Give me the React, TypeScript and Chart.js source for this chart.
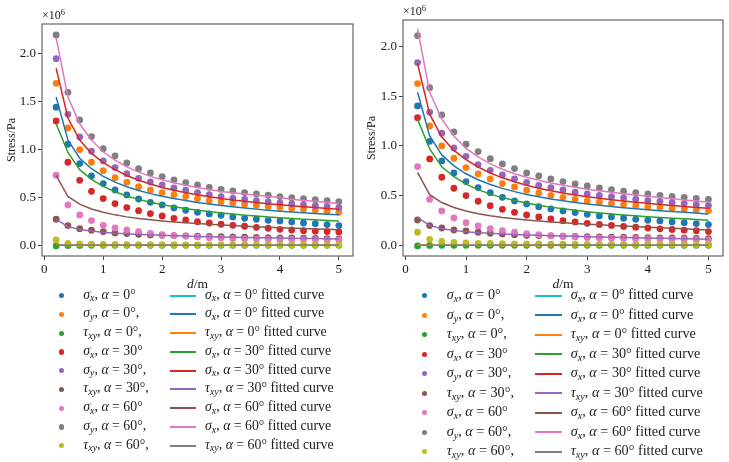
import React, { useEffect, useRef } from "react";
import { Chart, registerables } from "chart.js";

Chart.register(...registerables);

// Distance from the source (m)
const distance = [
  0.2, 0.4, 0.6, 0.8, 1.0, 1.2, 1.4, 1.6, 1.8, 2.0, 2.2, 2.4, 2.6,
  2.8, 3.0, 3.2, 3.4, 3.6, 3.8, 4.0, 4.2, 4.4, 4.6, 4.8, 5.0,
];

const xTicks = [0, 1, 2, 3, 4, 5];
const yTicks = [0, 0.5, 1.0, 1.5, 2.0];

// tab10 cycle; the fitted curves continue the cycle after the nine point series
const pointColors = ["#1f77b4", "#ff7f0e", "#2ca02c", "#d62728", "#9467bd", "#8c564b", "#e377c2", "#7f7f7f", "#bcbd22"];
const fitColors = ["#17becf", "#1f77b4", "#ff7f0e", "#2ca02c", "#d62728", "#9467bd", "#8c564b", "#e377c2", "#7f7f7f"];

// Legend labels
const pointSymbols = ["σ", "σ", "τ", "σ", "σ", "τ", "σ", "σ", "τ"];
const pointSubs = ["x", "y", "xy", "x", "y", "xy", "x", "y", "xy"];
const pointAngles = [0, 0, 0, 30, 30, 30, 60, 60, 60];
const pointCommas = [false, true, true, false, true, true, false, true, true];
const fitSymbols = ["σ", "σ", "τ", "σ", "σ", "τ", "σ", "σ", "τ"];
const fitSubs = ["x", "x", "xy", "x", "x", "xy", "x", "x", "xy"];
const fitAngles = [0, 0, 0, 30, 30, 30, 60, 60, 60];

// ---- Left panel: stresses (×10^6 Pa) ----
const leftSigmaX0 = [1.443, 1.056, 0.854, 0.725, 0.645, 0.578, 0.526, 0.484, 0.449, 0.422, 0.390, 0.366, 0.345, 0.328, 0.314, 0.296, 0.282, 0.272, 0.261, 0.254, 0.244, 0.233, 0.226, 0.216, 0.206];
const leftSigmaY0 = [1.693, 1.226, 1.000, 0.868, 0.780, 0.707, 0.659, 0.613, 0.578, 0.551, 0.530, 0.509, 0.488, 0.467, 0.453, 0.440, 0.428, 0.417, 0.406, 0.396, 0.387, 0.378, 0.368, 0.356, 0.345];
const leftTauXY0 = [-0.007, -0.002, -0.001, 0.0, 0.0, 0.0, 0.0, 0.0, 0.0, 0.0, 0.0, 0.0, 0.0, 0.0, 0.0, 0.0, 0.0, 0.0, 0.0, 0.0, 0.0, 0.0, 0.0, 0.0, 0.0];
const leftSigmaX30 = [1.300, 0.868, 0.679, 0.564, 0.488, 0.436, 0.394, 0.362, 0.331, 0.307, 0.282, 0.265, 0.247, 0.233, 0.220, 0.209, 0.199, 0.188, 0.178, 0.167, 0.160, 0.153, 0.148, 0.143, 0.139];
const leftSigmaY30 = [1.951, 1.369, 1.132, 0.983, 0.882, 0.812, 0.749, 0.700, 0.662, 0.631, 0.599, 0.575, 0.551, 0.530, 0.509, 0.493, 0.479, 0.466, 0.454, 0.443, 0.432, 0.422, 0.413, 0.404, 0.394];
const leftTauXY30 = [0.272, 0.206, 0.174, 0.157, 0.143, 0.129, 0.122, 0.115, 0.108, 0.105, 0.102, 0.099, 0.096, 0.093, 0.090, 0.087, 0.085, 0.083, 0.080, 0.078, 0.076, 0.074, 0.071, 0.069, 0.066];
const leftSigmaX60 = [0.732, 0.422, 0.317, 0.258, 0.209, 0.181, 0.160, 0.143, 0.125, 0.111, 0.101, 0.094, 0.087, 0.080, 0.075, 0.071, 0.068, 0.066, 0.064, 0.062, 0.061, 0.059, 0.058, 0.057, 0.056];
const leftSigmaY60 = [2.198, 1.599, 1.310, 1.136, 1.010, 0.934, 0.861, 0.801, 0.756, 0.718, 0.683, 0.655, 0.631, 0.606, 0.585, 0.568, 0.551, 0.537, 0.523, 0.509, 0.498, 0.488, 0.477, 0.467, 0.456];
const leftTauXY60 = [0.056, 0.021, 0.014, 0.011, 0.009, 0.008, 0.007, 0.007, 0.006, 0.006, 0.006, 0.005, 0.005, 0.005, 0.005, 0.005, 0.004, 0.004, 0.004, 0.004, 0.004, 0.004, 0.004, 0.004, 0.004];

const leftFitCyan = [0.002, 0.001, 0.001, 0.001, 0.0, 0.0, 0.0, 0.0, 0.0, 0.0, 0.0, 0.0, 0.0, 0.0, 0.0, 0.0, 0.0, 0.0, 0.0, 0.0, 0.0, 0.0, 0.0, 0.0, 0.0];
const leftFitBlue = [1.55, 1.10, 0.91, 0.80, 0.72, 0.66, 0.612, 0.573, 0.540, 0.512, 0.488, 0.467, 0.448, 0.431, 0.416, 0.402, 0.390, 0.378, 0.367, 0.357, 0.348, 0.340, 0.332, 0.325, 0.318];
const leftFitOrange = [0.002, 0.001, 0.001, 0.001, 0.0, 0.0, 0.0, 0.0, 0.0, 0.0, 0.0, 0.0, 0.0, 0.0, 0.0, 0.0, 0.0, 0.0, 0.0, 0.0, 0.0, 0.0, 0.0, 0.0, 0.0];
const leftFitGreen = [1.27, 0.97, 0.79, 0.69, 0.615, 0.560, 0.515, 0.480, 0.450, 0.425, 0.403, 0.384, 0.367, 0.352, 0.338, 0.326, 0.315, 0.305, 0.296, 0.288, 0.280, 0.273, 0.266, 0.260, 0.254];
const leftFitRed = [1.85, 1.33, 1.10, 0.96, 0.865, 0.790, 0.730, 0.680, 0.640, 0.605, 0.575, 0.550, 0.528, 0.508, 0.490, 0.474, 0.460, 0.447, 0.435, 0.424, 0.413, 0.403, 0.394, 0.385, 0.377];
const leftFitPurple = [0.27, 0.195, 0.165, 0.150, 0.137, 0.127, 0.120, 0.114, 0.109, 0.104, 0.100, 0.096, 0.093, 0.090, 0.087, 0.085, 0.082, 0.080, 0.078, 0.076, 0.074, 0.072, 0.070, 0.068, 0.066];
const leftFitBrown = [0.73, 0.51, 0.43, 0.38, 0.345, 0.318, 0.297, 0.280, 0.266, 0.254, 0.244, 0.235, 0.227, 0.219, 0.212, 0.206, 0.200, 0.194, 0.189, 0.184, 0.179, 0.175, 0.171, 0.167, 0.163];
const leftFitPink = [2.17, 1.55, 1.27, 1.10, 0.975, 0.890, 0.820, 0.765, 0.720, 0.685, 0.654, 0.628, 0.605, 0.584, 0.562, 0.548, 0.535, 0.523, 0.511, 0.500, 0.481, 0.469, 0.459, 0.448, 0.438];
const leftFitGray = [0.0, 0.0, 0.0, 0.0, 0.0, 0.0, 0.0, 0.0, 0.0, 0.0, 0.0, 0.0, 0.0, 0.0, 0.0, 0.0, 0.0, 0.0, 0.0, 0.0, 0.0, 0.0, 0.0, 0.0, 0.0];

// ---- Right panel: stresses (×10^6 Pa) ----
const rightSigmaX0 = [1.403, 1.047, 0.849, 0.728, 0.641, 0.581, 0.530, 0.483, 0.446, 0.416, 0.389, 0.366, 0.346, 0.329, 0.312, 0.295, 0.285, 0.272, 0.262, 0.252, 0.245, 0.235, 0.228, 0.218, 0.208];
const rightSigmaY0 = [1.628, 1.201, 1.000, 0.876, 0.782, 0.718, 0.668, 0.621, 0.587, 0.554, 0.527, 0.503, 0.483, 0.463, 0.446, 0.433, 0.421, 0.410, 0.399, 0.389, 0.380, 0.372, 0.364, 0.356, 0.349];
const rightTauXY0 = [-0.007, -0.002, -0.001, 0.0, 0.0, 0.0, 0.0, 0.0, 0.0, 0.0, 0.0, 0.0, 0.0, 0.0, 0.0, 0.0, 0.0, 0.0, 0.0, 0.0, 0.0, 0.0, 0.0, 0.0, 0.0];
const rightSigmaX30 = [1.285, 0.869, 0.685, 0.574, 0.500, 0.443, 0.399, 0.362, 0.332, 0.305, 0.285, 0.265, 0.248, 0.235, 0.221, 0.210, 0.200, 0.190, 0.182, 0.174, 0.166, 0.159, 0.152, 0.146, 0.138];
const rightSigmaY30 = [1.839, 1.339, 1.128, 0.980, 0.896, 0.812, 0.755, 0.708, 0.668, 0.634, 0.604, 0.581, 0.557, 0.534, 0.517, 0.503, 0.489, 0.476, 0.464, 0.452, 0.442, 0.431, 0.420, 0.410, 0.400];
const rightTauXY30 = [0.255, 0.198, 0.174, 0.154, 0.144, 0.131, 0.121, 0.114, 0.107, 0.101, 0.098, 0.095, 0.092, 0.089, 0.087, 0.085, 0.083, 0.081, 0.079, 0.077, 0.075, 0.073, 0.071, 0.069, 0.067];
const rightSigmaX60 = [0.792, 0.463, 0.346, 0.275, 0.228, 0.195, 0.168, 0.148, 0.131, 0.117, 0.107, 0.097, 0.091, 0.084, 0.077, 0.074, 0.071, 0.068, 0.066, 0.064, 0.062, 0.060, 0.058, 0.056, 0.054];
const rightSigmaY60 = [2.111, 1.587, 1.312, 1.141, 1.017, 0.943, 0.872, 0.819, 0.772, 0.728, 0.698, 0.668, 0.641, 0.617, 0.597, 0.577, 0.560, 0.544, 0.530, 0.517, 0.503, 0.493, 0.483, 0.473, 0.463];
const rightTauXY60 = [0.131, 0.060, 0.040, 0.030, 0.024, 0.020, 0.018, 0.016, 0.015, 0.014, 0.013, 0.012, 0.011, 0.011, 0.010, 0.010, 0.009, 0.009, 0.009, 0.008, 0.008, 0.008, 0.008, 0.007, 0.007];

const rightFitCyan = [0.002, 0.001, 0.001, 0.001, 0.0, 0.0, 0.0, 0.0, 0.0, 0.0, 0.0, 0.0, 0.0, 0.0, 0.0, 0.0, 0.0, 0.0, 0.0, 0.0, 0.0, 0.0, 0.0, 0.0, 0.0];
const rightFitBlue = [1.54, 1.10, 0.91, 0.80, 0.72, 0.66, 0.612, 0.573, 0.540, 0.512, 0.488, 0.467, 0.448, 0.431, 0.416, 0.402, 0.390, 0.378, 0.367, 0.357, 0.348, 0.340, 0.332, 0.325, 0.312];
const rightFitOrange = [0.002, 0.001, 0.001, 0.001, 0.0, 0.0, 0.0, 0.0, 0.0, 0.0, 0.0, 0.0, 0.0, 0.0, 0.0, 0.0, 0.0, 0.0, 0.0, 0.0, 0.0, 0.0, 0.0, 0.0, 0.0];
const rightFitGreen = [1.27, 0.97, 0.79, 0.69, 0.615, 0.560, 0.515, 0.480, 0.450, 0.425, 0.403, 0.384, 0.367, 0.352, 0.338, 0.326, 0.315, 0.305, 0.296, 0.288, 0.280, 0.273, 0.266, 0.259, 0.252];
const rightFitRed = [1.83, 1.32, 1.09, 0.955, 0.862, 0.788, 0.728, 0.679, 0.639, 0.604, 0.574, 0.549, 0.527, 0.507, 0.489, 0.473, 0.459, 0.446, 0.434, 0.422, 0.411, 0.400, 0.390, 0.381, 0.372];
const rightFitPurple = [0.28, 0.20, 0.167, 0.150, 0.137, 0.127, 0.120, 0.114, 0.109, 0.104, 0.100, 0.096, 0.093, 0.090, 0.087, 0.084, 0.081, 0.078, 0.076, 0.074, 0.071, 0.068, 0.066, 0.063, 0.060];
const rightFitBrown = [0.735, 0.51, 0.43, 0.38, 0.345, 0.318, 0.297, 0.280, 0.266, 0.254, 0.244, 0.235, 0.227, 0.219, 0.212, 0.206, 0.200, 0.194, 0.188, 0.182, 0.176, 0.171, 0.166, 0.160, 0.154];
const rightFitPink = [2.18, 1.54, 1.27, 1.10, 0.975, 0.890, 0.820, 0.765, 0.720, 0.685, 0.654, 0.628, 0.605, 0.584, 0.564, 0.548, 0.533, 0.519, 0.506, 0.494, 0.482, 0.469, 0.457, 0.445, 0.433];
const rightFitGray = [0.0, 0.0, 0.0, 0.0, 0.0, 0.0, 0.0, 0.0, 0.0, 0.0, 0.0, 0.0, 0.0, 0.0, 0.0, 0.0, 0.0, 0.0, 0.0, 0.0, 0.0, 0.0, 0.0, 0.0, 0.0];

const leftPoints = [leftSigmaX0, leftSigmaY0, leftTauXY0, leftSigmaX30, leftSigmaY30, leftTauXY30, leftSigmaX60, leftSigmaY60, leftTauXY60];
const leftFits = [leftFitCyan, leftFitBlue, leftFitOrange, leftFitGreen, leftFitRed, leftFitPurple, leftFitBrown, leftFitPink, leftFitGray];
const rightPoints = [rightSigmaX0, rightSigmaY0, rightTauXY0, rightSigmaX30, rightSigmaY30, rightTauXY30, rightSigmaX60, rightSigmaY60, rightTauXY60];
const rightFits = [rightFitCyan, rightFitBlue, rightFitOrange, rightFitGreen, rightFitRed, rightFitPurple, rightFitBrown, rightFitPink, rightFitGray];

const FONT = "'Liberation Serif', 'DejaVu Serif', serif";
const TEXT = "#1a1a1a";
const SPINE = "#666";

type PanelLayout = {
  left: number;
  width: number;
  height: number;
  padRight: number;
  padTop: number;
  yWidth: number;
  xHeight: number;
  yTitlePad: number;
  yMin: number;
  yMax: number;
};

type LegendLayout = {
  markerX: number;
  textX: number;
  lineX1: number;
  lineX2: number;
  fitTextX: number;
  rowY0: number;
  rowGap: number;
  fontSize: number;
};

const leftLayout: PanelLayout = { left: 0, width: 365, height: 292, padRight: 12, padTop: 24, yWidth: 42, xHeight: 36, yTitlePad: 5, yMin: -0.112, yMax: 2.313 };
const rightLayout: PanelLayout = { left: 365, width: 364, height: 292, padRight: 6, padTop: 20, yWidth: 38, xHeight: 36, yTitlePad: 0, yMin: -0.108, yMax: 2.268 };

const leftLegend: LegendLayout = { markerX: 61.7, textX: 83.3, lineX1: 170, lineX2: 196, fitTextX: 205, rowY0: 295.7, rowGap: 18.75, fontSize: 13.8 };
const rightLegend: LegendLayout = { markerX: 424.3, textX: 446.7, lineX1: 535, lineX2: 562, fitTextX: 570.7, rowY0: 295.7, rowGap: 19.5, fontSize: 14.2 };

const framePlugin = {
  id: "frame",
  afterDatasetsDraw(chart: any) {
    const { ctx, chartArea } = chart;
    const { left, top, right, bottom } = chartArea;
    ctx.save();
    ctx.strokeStyle = SPINE;
    ctx.lineWidth = 1.2;
    ctx.strokeRect(left, top, right - left, bottom - top);
    ctx.restore();
  },
};

function Panel({ layout, points, fits }: { layout: PanelLayout; points: number[][]; fits: number[][] }) {
  const ref = useRef<HTMLCanvasElement | null>(null);

  useEffect(() => {
    if (!ref.current) return;
    const toXY = (vals: number[]) => vals.map((y, i) => ({ x: distance[i], y }));
    const datasets: any[] = [
      ...points.map((vals, i) => ({
        data: toXY(vals),
        showLine: false,
        pointRadius: 3.4,
        pointHoverRadius: 3.4,
        pointBackgroundColor: pointColors[i],
        pointBorderWidth: 0,
        borderColor: pointColors[i],
        order: 100 - i,
      })),
      ...fits.map((vals, i) => ({
        data: toXY(vals),
        borderColor: fitColors[i],
        borderWidth: 1.5,
        pointRadius: 0,
        fill: false,
        tension: 0,
        order: 50 - i,
      })),
    ];

    const tickGrid = {
      display: true,
      drawOnChartArea: false,
      drawTicks: true,
      tickLength: 4,
      tickColor: "#444",
      lineWidth: 1,
    };

    const chart = new Chart(ref.current, {
      type: "line",
      data: { datasets },
      plugins: [framePlugin],
      options: {
        animation: false,
        responsive: false,
        devicePixelRatio: 1,
        layout: { padding: { left: 0, right: layout.padRight, top: layout.padTop, bottom: 0 } },
        plugins: { legend: { display: false }, tooltip: { enabled: false } },
        scales: {
          x: {
            type: "linear",
            min: -0.04,
            max: 5.24,
            grid: tickGrid,
            border: { display: false },
            afterBuildTicks: (axis: any) => {
              axis.ticks = xTicks.map((value) => ({ value }));
            },
            afterFit: (axis: any) => {
              axis.height = layout.xHeight;
            },
            ticks: {
              color: TEXT,
              font: { family: FONT, size: 13 },
              padding: 2,
              maxRotation: 0,
              callback: (v: any) => String(v),
            },
          },
          y: {
            type: "linear",
            min: layout.yMin,
            max: layout.yMax,
            grid: tickGrid,
            border: { display: false },
            afterBuildTicks: (axis: any) => {
              axis.ticks = yTicks.map((value) => ({ value }));
            },
            afterFit: (axis: any) => {
              axis.width = layout.yWidth;
            },
            title: {
              display: true,
              text: "Stress/Pa",
              color: TEXT,
              font: { family: FONT, size: 12 },
              padding: { top: layout.yTitlePad, bottom: 0 },
            },
            ticks: {
              color: TEXT,
              font: { family: FONT, size: 13 },
              padding: 2,
              callback: (v: any) => Number(v).toFixed(1),
            },
          },
        },
      },
    });
    return () => chart.destroy();
  }, [layout, points, fits]);

  const plotLeft = layout.left + layout.yWidth;
  const plotRight = layout.left + layout.width - layout.padRight;
  const plotCenter = (plotLeft + plotRight) / 2;

  return (
    <>
      <canvas
        ref={ref}
        width={layout.width}
        height={layout.height}
        style={{ position: "absolute", left: layout.left, top: 0, width: layout.width, height: layout.height }}
      />
      <div
        style={{
          position: "absolute",
          left: plotLeft,
          top: layout.padTop - 16,
          fontSize: 12,
          lineHeight: "14px",
          color: TEXT,
          whiteSpace: "nowrap",
        }}
      >
        ×10<span style={{ fontSize: 8.5, position: "relative", top: -4.5 }}>6</span>
      </div>
      <div
        style={{
          position: "absolute",
          left: plotCenter - 40,
          width: 80,
          top: 276,
          textAlign: "center",
          fontSize: 13.5,
          lineHeight: "15px",
          color: TEXT,
        }}
      >
        <i>d</i>/m
      </div>
    </>
  );
}

function MathLabel({ sym, sub, angle, comma, fitted }: { sym: string; sub: string; angle: number; comma: boolean; fitted: boolean }) {
  return (
    <>
      <i>{sym}</i>
      <i style={{ fontSize: "0.72em", position: "relative", top: "0.28em" }}>{sub}</i>
      {", "}
      <i>α</i>
      {" = "}
      {angle}°{comma ? "," : ""}
      {fitted ? " fitted curve" : ""}
    </>
  );
}

function Legend({ lg }: { lg: LegendLayout }) {
  const rows = pointSymbols.map((_, i) => i);
  return (
    <>
      {rows.map((i) => {
        const y = lg.rowY0 + i * lg.rowGap;
        const textTop = y - lg.fontSize * 0.66;
        return (
          <React.Fragment key={i}>
            <div
              style={{
                position: "absolute",
                left: lg.markerX - 2.7,
                top: y - 2.7,
                width: 5.4,
                height: 5.4,
                borderRadius: "50%",
                background: pointColors[i],
              }}
            />
            <div style={{ position: "absolute", left: lg.textX, top: textTop, fontSize: lg.fontSize, lineHeight: `${lg.fontSize + 2}px`, whiteSpace: "nowrap", color: TEXT }}>
              <MathLabel sym={pointSymbols[i]} sub={pointSubs[i]} angle={pointAngles[i]} comma={pointCommas[i]} fitted={false} />
            </div>
            <div
              style={{
                position: "absolute",
                left: lg.lineX1,
                top: Math.round(y) - 1,
                width: lg.lineX2 - lg.lineX1,
                height: 2,
                background: fitColors[i],
              }}
            />
            <div style={{ position: "absolute", left: lg.fitTextX, top: textTop, fontSize: lg.fontSize, lineHeight: `${lg.fontSize + 2}px`, whiteSpace: "nowrap", color: TEXT }}>
              <MathLabel sym={fitSymbols[i]} sub={fitSubs[i]} angle={fitAngles[i]} comma={false} fitted={true} />
            </div>
          </React.Fragment>
        );
      })}
    </>
  );
}

export default function App() {
  return (
    <div
      style={{
        position: "absolute",
        left: 0,
        top: 0,
        width: 729,
        height: 462,
        background: "#fff",
        fontFamily: FONT,
        overflow: "hidden",
      }}
    >
      <Panel layout={leftLayout} points={leftPoints} fits={leftFits} />
      <Panel layout={rightLayout} points={rightPoints} fits={rightFits} />
      <Legend lg={leftLegend} />
      <Legend lg={rightLegend} />
    </div>
  );
}
